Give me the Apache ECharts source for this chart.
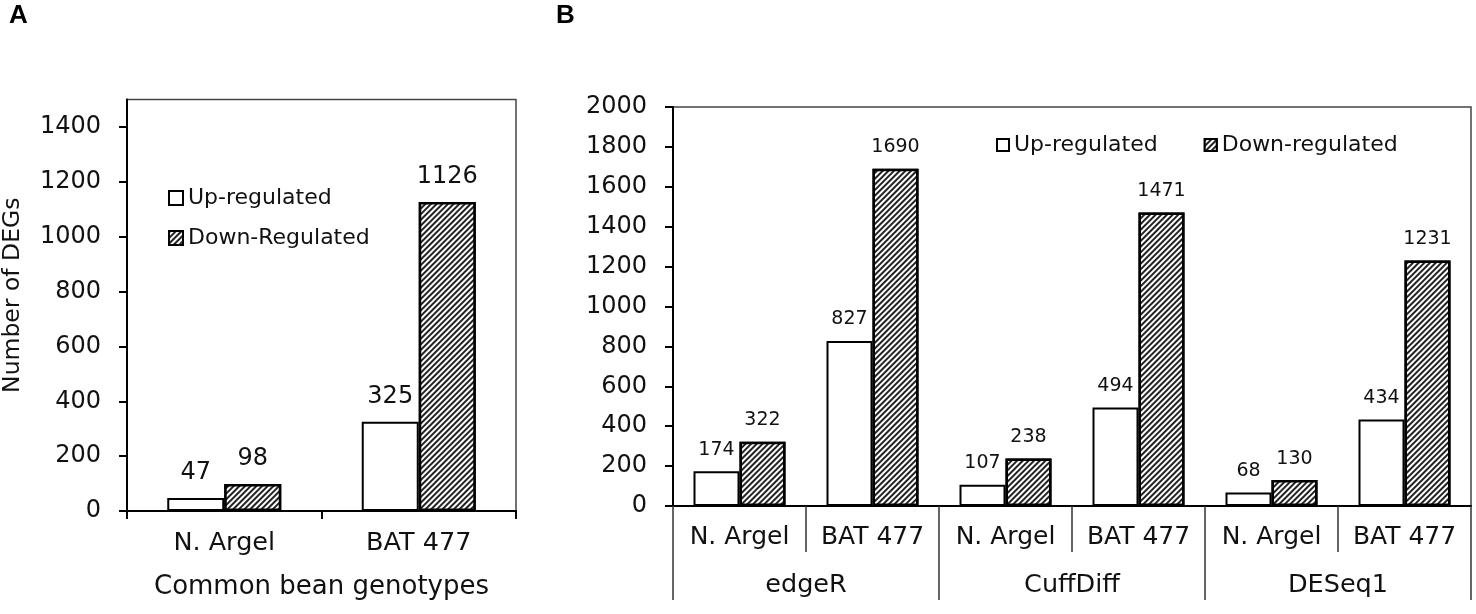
<!DOCTYPE html>
<html>
<head>
<meta charset="utf-8">
<script src="https://cdn.jsdelivr.net/npm/echarts@6/dist/echarts.min.js"></script>
<style>
html,body{margin:0;padding:0;background:#fff;}
#c{width:1476px;height:614px;}
</style>
</head>
<body>
<div id="c"></div>
<script>
// ---- Data ----
const catsA = ['N. Argel', 'BAT 477'];
const upA = [47, 325];
const downA = [98, 1126];
const ticksA = [0, 200, 400, 600, 800, 1000, 1200, 1400];

const subCatsB = ['N. Argel', 'BAT 477', 'N. Argel', 'BAT 477', 'N. Argel', 'BAT 477'];
const methodsB = ['edgeR', 'CuffDiff', 'DESeq1'];
const upB = [174, 827, 107, 494, 68, 434];
const downB = [322, 1690, 238, 1471, 130, 1231];

const FONT = 'DejaVu Sans';
const hatch = {
  symbol: 'rect', symbolSize: 1, color: '#222', backgroundColor: '#fff',
  dashArrayX: [1, 0], dashArrayY: [2, 2], rotation: -Math.PI / 4
};
const upStyle = { color: '#fff', borderColor: '#000', borderWidth: 2 };
const downStyle = { color: '#fff', borderColor: '#000', borderWidth: 2.5, decal: hatch };
const plain = v => String(v);

const chart = echarts.init(document.getElementById('c'));
chart.setOption({
  animation: false,
  textStyle: { fontFamily: FONT, color: '#111' },
  title: [
    { text: 'A', left: 9, top: 3, padding: 0, textStyle: { fontFamily: 'Liberation Sans', fontWeight: 'bold', fontSize: 26, color: '#000' } },
    { text: 'B', left: 556, top: 3, padding: 0, textStyle: { fontFamily: 'Liberation Sans', fontWeight: 'bold', fontSize: 26, color: '#000' } }
  ],
  legend: [
    {
      orient: 'vertical', left: 163, top: 182, itemWidth: 14, itemHeight: 14,
      itemGap: 18, itemTextGap: 7, icon: 'rect',
      textStyle: { fontSize: 22, color: '#111' },
      data: ['Up-regulated', 'Down-Regulated']
    },
    {
      orient: 'horizontal', left: 991, top: 129, itemWidth: 12, itemHeight: 12,
      itemGap: 46, itemTextGap: 6, icon: 'rect',
      textStyle: { fontSize: 22, color: '#111' },
      data: ['Up-regulated', 'Down-regulated']
    }
  ],
  grid: [
    { left: 126, top: 99.5, width: 390, height: 411.5, show: true, borderColor: '#444', borderWidth: 1.5, containLabel: false },
    { left: 673, top: 107, width: 798, height: 399, show: true, borderColor: '#444', borderWidth: 1.5, containLabel: false }
  ],
  xAxis: [
    {
      gridIndex: 0, type: 'category', data: catsA,
      axisLine: { lineStyle: { color: '#000', width: 2 } },
      axisTick: { show: true, length: 8, lineStyle: { color: '#000', width: 2 } },
      axisLabel: { margin: 19, fontSize: 25.5, color: '#111' },
      name: 'Common bean genotypes', nameLocation: 'middle', nameGap: 63,
      nameTextStyle: { fontSize: 26, color: '#111' }
    },
    {
      gridIndex: 1, type: 'category', data: subCatsB,
      axisLine: { lineStyle: { color: '#000', width: 2 } },
      axisTick: { show: true, interval: 0, length: 46, lineStyle: { color: '#333', width: 1.5 } },
      axisLabel: { margin: 19, fontSize: 25, color: '#111', interval: 0 }
    },
    {
      gridIndex: 1, type: 'category', data: methodsB, position: 'bottom',
      axisLine: { show: false },
      axisTick: { show: true, interval: 0, length: 94, lineStyle: { color: '#333', width: 1.5 } },
      axisLabel: { margin: 66, fontSize: 25.5, color: '#111', interval: 0 }
    }
  ],
  yAxis: [
    {
      gridIndex: 0, type: 'value', min: 0, max: 1500,
      splitLine: { show: false },
      axisLine: { show: true, lineStyle: { color: '#000', width: 2 } },
      axisTick: { show: true, length: 8, customValues: ticksA, lineStyle: { color: '#000', width: 2 } },
      axisLabel: { margin: 26, fontSize: 24, color: '#111', customValues: ticksA, formatter: plain },
      name: 'Number of DEGs', nameLocation: 'middle', nameGap: 102,
      nameTextStyle: { fontSize: 23.5, color: '#111', padding: [0, 0, 0, 20] }
    },
    {
      gridIndex: 1, type: 'value', min: 0, max: 2000, interval: 200,
      splitLine: { show: false },
      axisLine: { show: true, lineStyle: { color: '#000', width: 2 } },
      axisTick: { show: true, length: 8, lineStyle: { color: '#000', width: 2 } },
      axisLabel: { margin: 26, fontSize: 24, color: '#111', formatter: plain }
    }
  ],
  series: [
    {
      name: 'Up-regulated', type: 'bar', xAxisIndex: 0, yAxisIndex: 0, data: upA,
      barWidth: 57, barGap: '0%', itemStyle: upStyle,
      label: { show: true, position: 'top', distance: 13, fontSize: 24, color: '#111' }
    },
    {
      name: 'Down-Regulated', type: 'bar', xAxisIndex: 0, yAxisIndex: 0, data: downA,
      barWidth: 57, barGap: '0%', itemStyle: downStyle,
      label: { show: true, position: 'top', distance: 13, fontSize: 24, color: '#111' }
    },
    {
      name: 'Up-regulated', type: 'bar', xAxisIndex: 1, yAxisIndex: 1, data: upB,
      barWidth: 46, barGap: '0%', itemStyle: upStyle,
      label: { show: true, position: 'top', distance: 12, fontSize: 19, color: '#111' }
    },
    {
      name: 'Down-regulated', type: 'bar', xAxisIndex: 1, yAxisIndex: 1, data: downB,
      barWidth: 46, barGap: '0%', itemStyle: downStyle,
      label: { show: true, position: 'top', distance: 12, fontSize: 19, color: '#111' }
    }
  ]
});
</script>
</body>
</html>
